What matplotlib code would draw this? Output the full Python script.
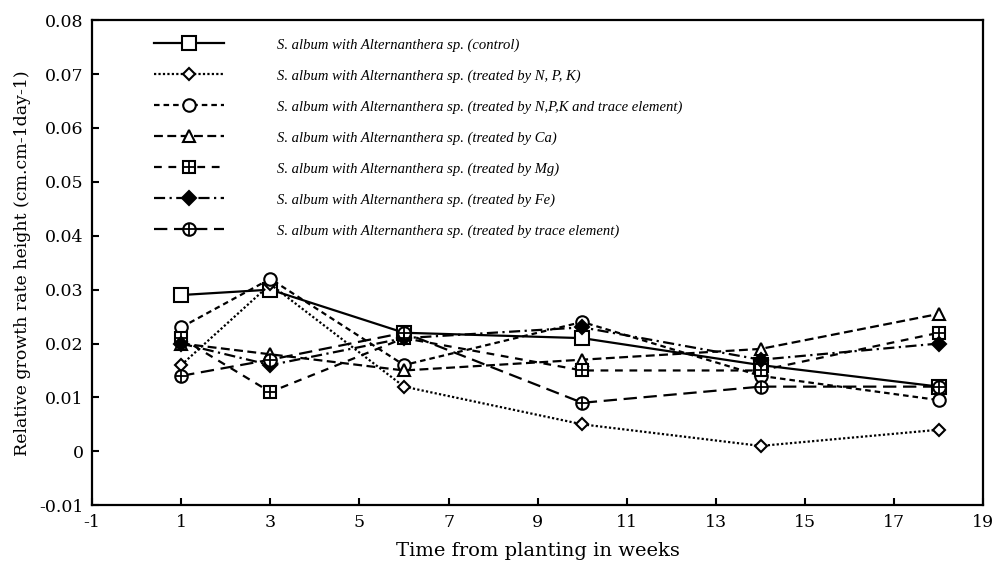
import matplotlib
matplotlib.use("Agg")
import matplotlib.pyplot as plt

# Relative growth rate (height) of S. album grown with Alternanthera sp.
weeks = [1, 3, 6, 10, 14, 18]
control = [0.029, 0.030, 0.022, 0.021, 0.016, 0.012]
npk = [0.016, 0.031, 0.012, 0.005, 0.001, 0.004]
npk_trace = [0.023, 0.032, 0.016, 0.024, 0.014, 0.0095]
ca = [0.020, 0.018, 0.015, 0.017, 0.019, 0.0255]
mg = [0.021, 0.011, 0.021, 0.015, 0.015, 0.022]
fe = [0.020, 0.016, 0.021, 0.023, 0.017, 0.020]
trace = [0.014, 0.017, 0.022, 0.009, 0.012, 0.012]

labels = [
    "S. album with Alternanthera sp. (control)",
    "S. album with Alternanthera sp. (treated by N, P, K)",
    "S. album with Alternanthera sp. (treated by N,P,K and trace element)",
    "S. album with Alternanthera sp. (treated by Ca)",
    "S. album with Alternanthera sp. (treated by Mg)",
    "S. album with Alternanthera sp. (treated by Fe)",
    "S. album with Alternanthera sp. (treated by trace element)",
]

# (values, linestyle, marker, marker face, marker size, overlay cross)
series = [
    (control, "-", "s", "white", 10, False),
    (npk, (0, (1, 1)), "D", "white", 6.5, False),
    (npk_trace, (0, (2.5, 1.8)), "o", "white", 9, False),
    (ca, (0, (4, 2)), "^", "white", 9, False),
    (mg, (0, (3.5, 3)), "s", "white", 9, True),
    (fe, (0, (5, 2, 1, 2)), "D", "black", 7, False),
    (trace, (0, (6, 3)), "o", "white", 9, True),
]

plt.rcParams["font.family"] = ["DejaVu Serif"]
plt.rcParams["axes.unicode_minus"] = False

fig = plt.figure(figsize=(9.96, 5.78), dpi=100)
ax = fig.add_axes([0.0924, 0.126, 0.895, 0.839])

handles = []
for vals, ls, mk, face, ms, cross in series:
    line, = ax.plot(weeks, vals, color="black", linestyle=ls, linewidth=1.6,
                    marker=mk, markersize=ms, markerfacecolor=face,
                    markeredgecolor="black", markeredgewidth=1.5, zorder=3)
    if cross:
        plus, = ax.plot(weeks, vals, linestyle="none", marker="+",
                        markersize=ms, markeredgecolor="black",
                        markeredgewidth=1.3, zorder=4)
        handles.append((line, plus))
    else:
        handles.append(line)

ax.set_xlim(-1, 19)
ax.set_ylim(-0.01, 0.08)
ax.set_xticks(range(-1, 20, 2))
ax.set_yticks([-0.01, 0, 0.01, 0.02, 0.03, 0.04, 0.05, 0.06, 0.07, 0.08])
ax.set_yticklabels(["-0.01", "0", "0.01", "0.02", "0.03", "0.04",
                    "0.05", "0.06", "0.07", "0.08"])
ax.tick_params(direction="in", length=5, width=1.5, labelsize=12.5, pad=6)
for sp in ax.spines.values():
    sp.set_linewidth(1.6)

ax.set_xlabel("Time from planting in weeks", fontsize=14, labelpad=8)
ax.set_ylabel("Relative growth rate height (cm.cm-1day-1)", fontsize=12.5, labelpad=6)

ax.legend(handles, labels, loc="upper left", bbox_to_anchor=(0.055, 0.99),
          frameon=False, handlelength=4.8, handletextpad=3.6,
          labelspacing=1.2,
          prop={"family": "Liberation Serif", "style": "italic", "size": 10.5})

fig.savefig("out.png", dpi=100)
